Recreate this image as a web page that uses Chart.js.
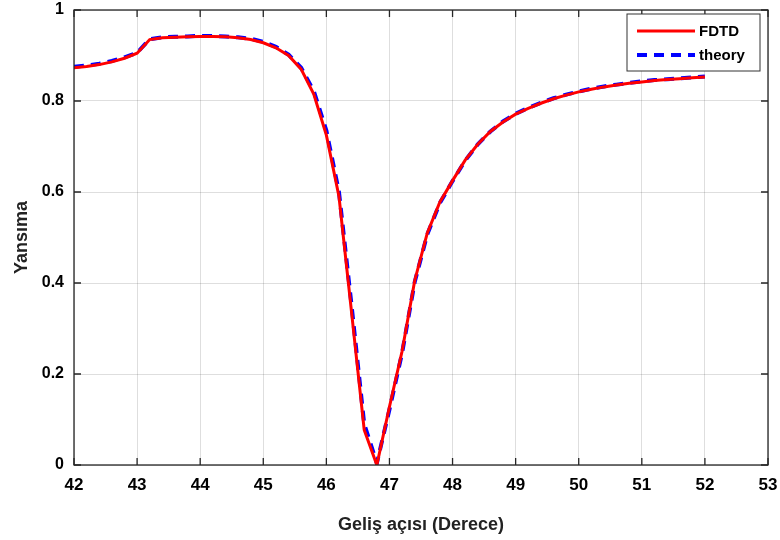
<!DOCTYPE html>
<html>
<head>
<meta charset="utf-8">
<script src="https://cdn.jsdelivr.net/npm/chart.js@4.4.1/dist/chart.umd.min.js"></script>
<style>
  html, body { margin: 0; padding: 0; background: #fff; }
  #wrap { width: 780px; height: 540px; }
</style>
</head>
<body>
<div id="wrap"><canvas id="reflChart"></canvas></div>
<script>
// angle of incidence (degrees)
const angles = [42.0, 42.2, 42.4, 42.6, 42.8, 43.0, 43.2, 43.4, 43.6, 43.8,
  44.0, 44.2, 44.4, 44.6, 44.8, 45.0, 45.2, 45.4, 45.6, 45.8,
  46.0, 46.2, 46.4, 46.6, 46.8, 47.0, 47.2, 47.4, 47.6, 47.8,
  48.0, 48.2, 48.4, 48.6, 48.8, 49.0, 49.2, 49.4, 49.6, 49.8,
  50.0, 50.2, 50.4, 50.6, 50.8, 51.0, 51.2, 51.4, 51.6, 51.8, 52.0];

const fdtd = [0.873, 0.876, 0.880, 0.886, 0.894, 0.905, 0.935, 0.939, 0.940, 0.941,
  0.942, 0.942, 0.941, 0.939, 0.935, 0.928, 0.917, 0.900, 0.870, 0.815,
  0.725, 0.590, 0.335, 0.077, 0.000, 0.128, 0.250, 0.405, 0.510, 0.578,
  0.625, 0.670, 0.705, 0.733, 0.754, 0.771, 0.784, 0.795, 0.805, 0.813,
  0.820, 0.826, 0.831, 0.835, 0.839, 0.842, 0.845, 0.847, 0.849, 0.851, 0.853];

const theory = [0.875, 0.878, 0.882, 0.888, 0.896, 0.906, 0.936, 0.940, 0.941, 0.942,
  0.943, 0.943, 0.942, 0.940, 0.937, 0.930, 0.919, 0.902, 0.873, 0.822,
  0.735, 0.600, 0.350, 0.090, 0.004, 0.122, 0.246, 0.402, 0.507, 0.576,
  0.624, 0.669, 0.705, 0.733, 0.755, 0.772, 0.785, 0.796, 0.806, 0.814,
  0.821, 0.827, 0.832, 0.836, 0.840, 0.843, 0.846, 0.848, 0.850, 0.852, 0.854];

const xTicks = [42, 43, 44, 45, 46, 47, 48, 49, 50, 51, 52, 53];
const yTicks = [0, 0.2, 0.4, 0.6, 0.8, 1];

const FONT = "'Liberation Sans', Arial, sans-serif";
const AXIS_COLOR = "#262626";

// box, inward ticks and legend, MATLAB style
const boxPlugin = {
  id: "boxPlugin",
  afterDatasetsDraw(chart) {
    const { ctx, chartArea: a, scales } = chart;
    ctx.save();
    ctx.strokeStyle = AXIS_COLOR;
    ctx.lineWidth = 1.3;
    ctx.strokeRect(a.left, a.top, a.right - a.left, a.bottom - a.top);
    ctx.beginPath();
    xTicks.forEach(v => {
      const px = scales.x.getPixelForValue(v);
      ctx.moveTo(px, a.bottom); ctx.lineTo(px, a.bottom - 7);
      ctx.moveTo(px, a.top); ctx.lineTo(px, a.top + 7);
    });
    yTicks.forEach(v => {
      const py = scales.y.getPixelForValue(v);
      ctx.moveTo(a.left, py); ctx.lineTo(a.left + 7, py);
      ctx.moveTo(a.right, py); ctx.lineTo(a.right - 7, py);
    });
    ctx.stroke();

    // legend box
    const lx = a.right - 141, ly = a.top + 4, lw = 133, lh = 57;
    ctx.fillStyle = "#fff";
    ctx.fillRect(lx, ly, lw, lh);
    ctx.strokeStyle = "#333";
    ctx.lineWidth = 1;
    ctx.strokeRect(lx, ly, lw, lh);
    ctx.font = "bold 15px " + FONT;
    ctx.textBaseline = "middle";
    chart.data.datasets.forEach((ds, i) => {
      const y = ly + 17 + i * 24;
      ctx.beginPath();
      ctx.strokeStyle = ds.borderColor;
      ctx.lineWidth = ds.borderWidth;
      ctx.setLineDash(ds.borderDash || []);
      ctx.moveTo(lx + 10, y);
      ctx.lineTo(lx + 68, y);
      ctx.stroke();
      ctx.setLineDash([]);
      ctx.fillStyle = "#000";
      ctx.fillText(ds.label, lx + 72, y + 1);
    });
    ctx.restore();
  }
};

new Chart(document.getElementById("reflChart"), {
  type: "line",
  data: {
    labels: angles,
    datasets: [
      {
        label: "FDTD",
        data: angles.map((x, i) => ({ x: x, y: fdtd[i] })),
        borderColor: "#ff0000",
        borderWidth: 3,
        pointRadius: 0,
        tension: 0,
        fill: false,
      },
      {
        label: "theory",
        data: angles.map((x, i) => ({ x: x, y: theory[i] })),
        borderColor: "#0000ff",
        borderWidth: 4,
        borderDash: [10, 7],
        pointRadius: 0,
        tension: 0,
        fill: false,
      },
    ],
  },
  options: {
    responsive: true,
    maintainAspectRatio: false,
    animation: false,
    layout: { padding: { top: 10, right: 12, left: 0, bottom: 0 } },
    plugins: {
      legend: { display: false },
      tooltip: { enabled: false },
    },
    scales: {
      x: {
        type: "linear",
        min: 42,
        max: 53,
        afterBuildTicks: (s) => { s.ticks = xTicks.map(v => ({ value: v })); },
        afterFit: (s) => { s.height = 75; s.paddingLeft = 0; s.paddingRight = 0; },
        grid: { color: "rgba(0,0,0,0.13)", drawTicks: false },
        border: { display: false },
        ticks: {
          color: "#000",
          padding: 10,
          font: { family: FONT, size: 17, weight: "bold" },
          maxRotation: 0,
        },
        title: {
          display: true,
          text: "Geliş açısı (Derece)",
          color: "#222",
          padding: { top: 6 },
          font: { family: FONT, size: 18, weight: "bold" },
        },
      },
      y: {
        type: "linear",
        min: 0,
        max: 1,
        afterBuildTicks: (s) => { s.ticks = yTicks.map(v => ({ value: v })); },
        afterFit: (s) => { s.width = 74; s.paddingTop = 0; s.paddingBottom = 0; },
        grid: { color: "rgba(0,0,0,0.13)", drawTicks: false },
        border: { display: false },
        ticks: {
          color: "#000",
          padding: 10,
          font: { family: FONT, size: 16, weight: "bold" },
          callback: (v) => String(Math.round(v * 10) / 10),
        },
        title: {
          display: true,
          text: "Yansıma",
          color: "#222",
          padding: { top: 11, bottom: 4 },
          font: { family: FONT, size: 18, weight: "bold" },
        },
      },
    },
  },
  plugins: [boxPlugin],
});
</script>
</body>
</html>
